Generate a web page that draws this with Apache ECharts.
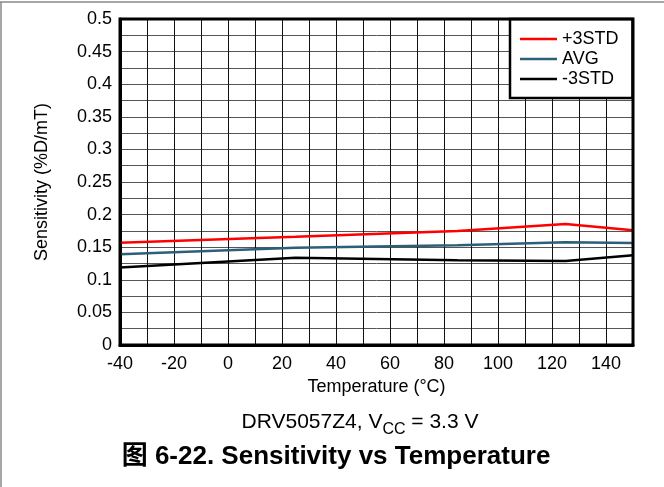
<!DOCTYPE html>
<html>
<head>
<meta charset="utf-8">
<script src="https://cdn.jsdelivr.net/npm/echarts@6/dist/echarts.min.js"></script>
<style>
html,body{margin:0;padding:0;background:#fff;}
#chart{width:664px;height:487px;}
</style>
</head>
<body>
<div id="chart"></div>
<script>
const temperatures = [-40, 25, 85, 125, 150];
const plus3STD = [0.157, 0.166, 0.175, 0.1855, 0.176];
const avgValues = [0.139, 0.149, 0.153, 0.1575, 0.1565];
const minus3STD = [0.119, 0.134, 0.130, 0.129, 0.1375];
const seriesNames = ['+3STD', 'AVG', '-3STD'];
const xTickLabels = ['-40', '-20', '0', '20', '40', '60', '80', '100', '120', '140'];
const yTickLabels = ['0', '0.05', '0.1', '0.15', '0.2', '0.25', '0.3', '0.35', '0.4', '0.45', '0.5'];

const FONT = '"Liberation Sans", Arial, sans-serif';
const pair = (xs, ys) => xs.map((x, i) => [x, ys[i]]);

const chart = echarts.init(document.getElementById('chart'), null, {renderer: 'canvas'});
chart.setOption({
  animation: false,
  backgroundColor: '#fff',
  textStyle: {fontFamily: FONT},
  grid: {left: 120, right: 31, top: 19, bottom: 142, containLabel: false},
  xAxis: {
    type: 'value', min: -40, max: 150, interval: 10,
    name: 'Temperature (\u00B0C)', nameLocation: 'middle', nameGap: 28,
    nameTextStyle: {fontSize: 18, color: '#000', fontFamily: FONT},
    axisLine: {show: true, onZero: false, lineStyle: {color: '#000', width: 3}},
    axisTick: {show: false},
    axisLabel: {
      fontSize: 18, color: '#000', margin: 10, fontFamily: FONT,
      formatter: v => { const s = String(Math.round(v)); return xTickLabels.includes(s) ? s : ''; }
    },
    splitLine: {show: true, lineStyle: {color: '#111', width: 1}}
  },
  yAxis: {
    type: 'value', min: 0, max: 0.5, interval: 0.025,
    name: 'Sensitivity (%D/mT)', nameLocation: 'middle', nameGap: 69,
    nameTextStyle: {fontSize: 18, color: '#000', fontFamily: FONT, padding: [0, 0, 0, 0]},
    axisLine: {show: true, onZero: false, lineStyle: {color: '#000', width: 3}},
    axisTick: {show: false},
    axisLabel: {
      fontSize: 18, color: '#000', margin: 8, fontFamily: FONT,
      formatter: v => { const s = String(Math.round(v * 1000) / 1000); return yTickLabels.includes(s) ? s : ''; }
    },
    splitLine: {show: true, lineStyle: {color: '#555', width: 1}}
  },
  legend: {
    orient: 'vertical', left: 510, top: 19,
    data: seriesNames,
    icon: 'rect', itemWidth: 37, itemHeight: 2.5, itemGap: 2,
    padding: [11, 14, 10, 10],
    backgroundColor: '#fff', borderColor: '#000', borderWidth: 2.5,
    textStyle: {fontSize: 18, color: '#000', fontFamily: FONT}
  },
  series: [
    {name: seriesNames[0], type: 'line', data: pair(temperatures, plus3STD), showSymbol: false, lineStyle: {color: '#ff0000', width: 2.5}, itemStyle: {color: '#ff0000'}, z: 5},
    {name: seriesNames[1], type: 'line', data: pair(temperatures, avgValues), showSymbol: false, lineStyle: {color: '#2d5f78', width: 2.5}, itemStyle: {color: '#2d5f78'}, z: 4},
    {name: seriesNames[2], type: 'line', data: pair(temperatures, minus3STD), showSymbol: false, lineStyle: {color: '#000', width: 2.5}, itemStyle: {color: '#000'}, z: 3}
  ],
  title: [
    {
      text: '{a|DRV5057Z4, V}{s|CC}{a| = 3.3 V}',
      left: 355, top: 407, textAlign: 'center',
      textStyle: {
        fontWeight: 'normal',
        rich: {
          a: {fontSize: 21, fontWeight: 'normal', color: '#000', fontFamily: FONT, lineHeight: 22, verticalAlign: 'top'},
          s: {fontSize: 16, fontWeight: 'normal', color: '#000', fontFamily: FONT, lineHeight: 16, padding: [10, 0, 0, 0], verticalAlign: 'top'}
        }
      }
    },
    {
      text: '\u56FE 6-22. Sensitivity vs Temperature',
      left: 331, top: 439, textAlign: 'center',
      textStyle: {fontSize: 26, fontWeight: 'bold', color: '#000', fontFamily: '"Liberation Sans", "Noto Sans CJK SC", Arial, sans-serif'}
    }
  ],
  graphic: [
    {type: 'line', shape: {x1: 0, y1: 2, x2: 664, y2: 2}, style: {stroke: '#888', lineWidth: 1.5}, silent: true},
    {type: 'line', shape: {x1: 1, y1: 2, x2: 1, y2: 487}, style: {stroke: '#888', lineWidth: 1.5}, silent: true},
    {type: 'rect', shape: {x: 120, y: 19, width: 513, height: 326}, style: {fill: 'none', stroke: '#000', lineWidth: 3}, silent: true, z: 10}
  ]
});
</script>
</body>
</html>
